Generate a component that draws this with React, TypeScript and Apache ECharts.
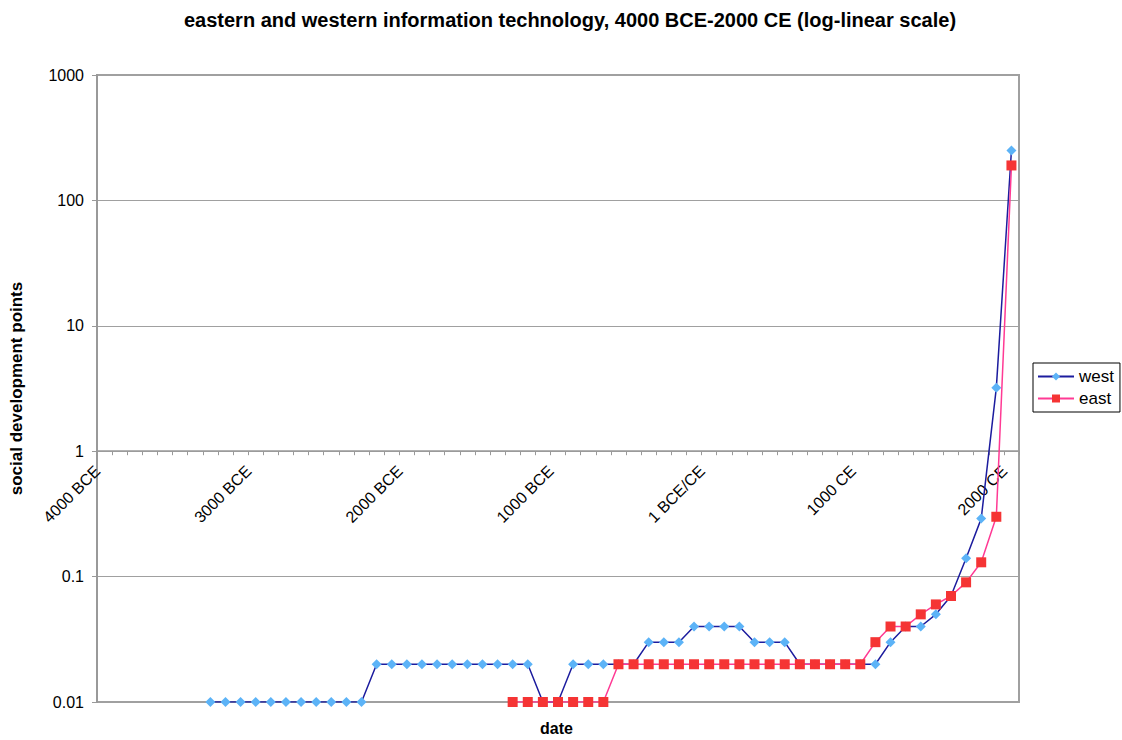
import React, { useEffect, useRef } from "react";
import * as echarts from "echarts";

const years: number[] = [];
for (let y = -4000; y <= 2000; y += 100) years.push(y);
const categories = years.map((y) =>
  y < 0 ? `${-y} BCE` : y === 0 ? "1 BCE/CE" : `${y} CE`
);

const west: (number | null)[] = [
  null, null, null, null, null, null, null,
  0.01, 0.01, 0.01, 0.01, 0.01, 0.01, 0.01, 0.01, 0.01, 0.01, 0.01,
  0.02, 0.02, 0.02, 0.02, 0.02, 0.02, 0.02, 0.02, 0.02, 0.02, 0.02,
  0.01, 0.01,
  0.02, 0.02, 0.02, 0.02, 0.02,
  0.03, 0.03, 0.03,
  0.04, 0.04, 0.04, 0.04,
  0.03, 0.03, 0.03,
  0.02, 0.02, 0.02, 0.02, 0.02, 0.02,
  0.03, 0.04, 0.04, 0.05, 0.07, 0.14, 0.29, 3.2, 250,
];

const east: (number | null)[] = [
  null, null, null, null, null, null, null, null, null, null,
  null, null, null, null, null, null, null, null, null, null,
  null, null, null, null, null, null, null,
  0.01, 0.01, 0.01, 0.01, 0.01, 0.01, 0.01,
  0.02, 0.02, 0.02, 0.02, 0.02, 0.02, 0.02, 0.02, 0.02, 0.02,
  0.02, 0.02, 0.02, 0.02, 0.02, 0.02, 0.02,
  0.03, 0.04, 0.04, 0.05, 0.06, 0.07, 0.09, 0.13, 0.3, 190,
];

const yTickLabels: Record<number, string> = {
  [-2]: "0.01", [-1]: "0.1", 0: "1", 1: "10", 2: "100", 3: "1000",
};

const FONT = "'Liberation Sans', Arial, Helvetica, sans-serif";

export default function App() {
  const ref = useRef<HTMLDivElement>(null);
  useEffect(() => {
    if (!ref.current) return;
    const chart = echarts.init(ref.current, undefined, { renderer: "svg" });
    const gridTop = 75;
    const gridBottom = 38;
    const gridH = 740 - gridTop - gridBottom;
    chart.setOption({
      animation: false,
      backgroundColor: "#ffffff",
      textStyle: { fontFamily: FONT },
      title: {
        text: "eastern and western information technology, 4000 BCE-2000 CE (log-linear scale)",
        left: 565,
        textAlign: "center",
        top: 5,
        textStyle: { fontFamily: FONT, fontWeight: "bold", fontSize: 20, color: "#000" },
      },
      legend: {
        orient: "vertical",
        left: 1033,
        top: 363,
        borderColor: "#000",
        borderWidth: 1,
        padding: [5, 6, 5, 4],
        itemGap: 5,
        itemWidth: 36,
        itemHeight: 10,
        textStyle: { fontFamily: FONT, fontSize: 17, color: "#000" },
        data: ["west", "east"],
      },
      grid: {
        left: 97,
        right: 103,
        top: gridTop,
        bottom: gridBottom,
        show: true,
        borderColor: "#a0a0a0",
        borderWidth: 2,
        backgroundColor: "transparent",
      },
      graphic: [
        {
          type: "text",
          left: 540,
          top: 720,
          style: { text: "date", font: `bold 16px ${FONT}`, fill: "#000" },
        },
      ],
      xAxis: {
        type: "category",
        data: categories,
        boundaryGap: true,
        position: "bottom",
        offset: -(gridH * 2) / 5,
        axisLine: { show: true, onZero: false, lineStyle: { color: "#999", width: 1.5 } },
        axisTick: { show: true, interval: 0, length: 4, inside: false, lineStyle: { color: "#999" } },
        axisLabel: {
          interval: 9,
          rotate: 45,
          margin: 10,
          padding: [0, 10, 0, 0],
          fontSize: 16,
          fontFamily: FONT,
          color: "#000",
        },
        splitLine: { show: false },
      },
      yAxis: {
        type: "log",
        logBase: 10,
        min: 0.01,
        max: 1000,
        name: "social development points",
        nameLocation: "middle",
        nameGap: 72,
        nameTextStyle: { fontFamily: FONT, fontWeight: "bold", fontSize: 17, color: "#000" },
        axisLine: { show: true, lineStyle: { color: "#999", width: 2 } },
        axisTick: { show: true, length: 5, lineStyle: { color: "#999" } },
        axisLabel: {
          margin: 13,
          fontSize: 16,
          fontFamily: FONT,
          color: "#000",
          formatter: (v: number) => yTickLabels[Math.round(Math.log10(v))] ?? String(v),
        },
        splitLine: { show: true, lineStyle: { color: "#a0a0a0", width: 1 } },
      },
      series: [
        {
          name: "west",
          type: "line",
          data: west,
          symbol: "diamond",
          symbolSize: 10,
          connectNulls: false,
          lineStyle: { color: "#1c1c9e", width: 1.5 },
          itemStyle: { color: "#5cb3f7" },
          z: 2,
        },
        {
          name: "east",
          type: "line",
          data: east,
          symbol: "rect",
          symbolSize: 10,
          connectNulls: false,
          lineStyle: { color: "#ff3a94", width: 1.5 },
          itemStyle: { color: "#f53434" },
          z: 3,
        },
      ],
    });
    return () => chart.dispose();
  }, []);
  return (
    <div
      ref={ref}
      style={{ position: "fixed", left: 0, top: 0, width: 1122, height: 740, background: "#fff" }}
    />
  );
}
